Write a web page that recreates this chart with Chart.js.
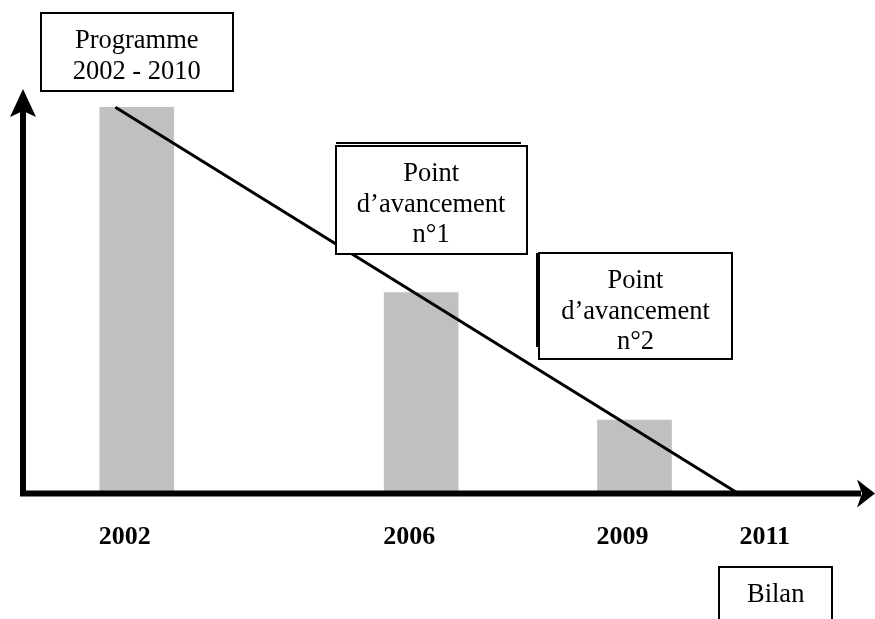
<!DOCTYPE html>
<html>
<head>
  <title>Programme 2002 - 2010</title>
  <script src="https://cdn.jsdelivr.net/npm/chart.js@4"></script>
  <style>
    html, body { margin: 0; padding: 0; background: #fff; }
    #wrap { width: 875px; height: 619px; }
  </style>
</head>
<body>
  <div id="wrap"><canvas id="programmeChart"></canvas></div>

  <script>
    // Années affichées sous l'axe
    const yearTicks = [2002, 2006, 2009, 2011];

    // Barres grises
    const barYears = [2002, 2006, 2009];
    const barValues = [100, 52, 19];

    // Droite de programmation
    const lineYears = [2001.7, 2010.46];
    const lineValues = [100, 0];

    // Cartouches de texte
    const boxYears = [2002, 2006, 2009, 2011];
    const boxTexts = [
      ['Programme', '2002 - 2010'],
      ['Point', 'd\u2019avancement', 'n°1'],
      ['Point', 'd\u2019avancement', 'n°2'],
      ['Bilan']
    ];

    const serif = '"Liberation Serif", "Times New Roman", serif';

    // Position des cartouches (décalage x, haut, largeur, hauteur)
    const boxLayout = [
      { dx: 0, top: 13, w: 192, h: 78 },
      { dx: 10, top: 146, w: 191, h: 108 },
      { dx: 1, top: 253, w: 193, h: 106 },
      { dx: -1, top: 567, w: 113, h: 70 }
    ];

    // Axes épais avec flèches
    const arrowAxes = {
      id: 'arrowAxes',
      afterDatasetsDraw(chart) {
        const ctx = chart.ctx;
        const a = chart.chartArea;
        const x0 = a.left, y0 = a.bottom;
        ctx.save();
        ctx.strokeStyle = '#000';
        ctx.fillStyle = '#000';
        ctx.lineWidth = 6;
        ctx.lineCap = 'butt';
        ctx.beginPath();
        ctx.moveTo(x0, y0 + 3);
        ctx.lineTo(x0, a.top + 20);
        ctx.moveTo(x0 - 3, y0);
        ctx.lineTo(chart.width - 14, y0);
        ctx.stroke();
        // flèche verticale
        ctx.beginPath();
        ctx.moveTo(x0, a.top + 1);
        ctx.lineTo(x0 + 13, a.top + 29);
        ctx.lineTo(x0, a.top + 23);
        ctx.lineTo(x0 - 13, a.top + 29);
        ctx.closePath();
        ctx.fill();
        // flèche horizontale
        const tip = chart.width;
        ctx.beginPath();
        ctx.moveTo(tip, y0);
        ctx.lineTo(tip - 18, y0 - 14);
        ctx.lineTo(tip - 13, y0);
        ctx.lineTo(tip - 18, y0 + 14);
        ctx.closePath();
        ctx.fill();
        ctx.restore();
      }
    };

    // Cartouches encadrés
    const textBoxes = {
      id: 'textBoxes',
      afterDraw(chart) {
        const ctx = chart.ctx;
        const xs = chart.scales.x;
        ctx.save();
        ctx.font = '26.5px ' + serif;
        ctx.textAlign = 'center';
        ctx.textBaseline = 'alphabetic';
        boxYears.forEach(function (yr, i) {
          const b = boxLayout[i];
          const cx = xs.getPixelForValue(yr) + b.dx;
          const left = Math.round(cx - b.w / 2);
          ctx.fillStyle = '#fff';
          ctx.fillRect(left, b.top, b.w, b.h);
          ctx.strokeStyle = '#000';
          ctx.lineWidth = 2;
          ctx.strokeRect(left, b.top, b.w, b.h);
          ctx.fillStyle = '#000';
          boxTexts[i].forEach(function (t, j) {
            ctx.fillText(t, cx, b.top + 35 + j * 30.5);
          });
          if (i === 1) {
            ctx.beginPath();
            ctx.moveTo(left, b.top - 3);
            ctx.lineTo(left + b.w - 6, b.top - 3);
            ctx.stroke();
          }
          if (i === 2) {
            ctx.beginPath();
            ctx.moveTo(left - 2, b.top);
            ctx.lineTo(left - 2, b.top + b.h - 12);
            ctx.stroke();
          }
        });
        ctx.restore();
      }
    };

    const barPoints = barYears.map(function (yr, i) { return { x: yr, y: barValues[i] }; });
    const linePoints = lineYears.map(function (yr, i) { return { x: yr, y: lineValues[i] }; });

    new Chart(document.getElementById('programmeChart'), {
      type: 'bar',
      data: {
        datasets: [
          {
            type: 'line',
            data: linePoints,
            borderColor: '#000',
            borderWidth: 3,
            pointRadius: 0,
            tension: 0,
            order: 0
          },
          {
            type: 'bar',
            data: barPoints,
            backgroundColor: '#c0c0c0',
            borderWidth: 0,
            barThickness: 74,
            order: 1
          }
        ]
      },
      options: {
        responsive: true,
        maintainAspectRatio: false,
        animation: false,
        events: [],
        layout: { padding: { left: 23, right: 13, top: 88, bottom: 0 } },
        plugins: {
          legend: { display: false },
          tooltip: { enabled: false }
        },
        scales: {
          x: {
            type: 'linear',
            offset: false,
            min: 2000.4,
            max: 2012.2,
            grid: { display: false, drawTicks: false, offset: false },
            border: { display: false },
            afterBuildTicks: function (scale) {
              scale.ticks = yearTicks.map(function (v) { return { value: v }; });
            },
            afterFit: function (scale) { scale.height = 125.5; },
            ticks: {
              padding: 28,
              labelOffset: -12,
              color: '#000',
              font: { family: serif, size: 26, weight: 'bold' },
              callback: function (v) { return String(v); }
            }
          },
          y: {
            display: false,
            min: 0,
            max: 105
          }
        }
      },
      plugins: [arrowAxes, textBoxes]
    });
  </script>
</body>
</html>
